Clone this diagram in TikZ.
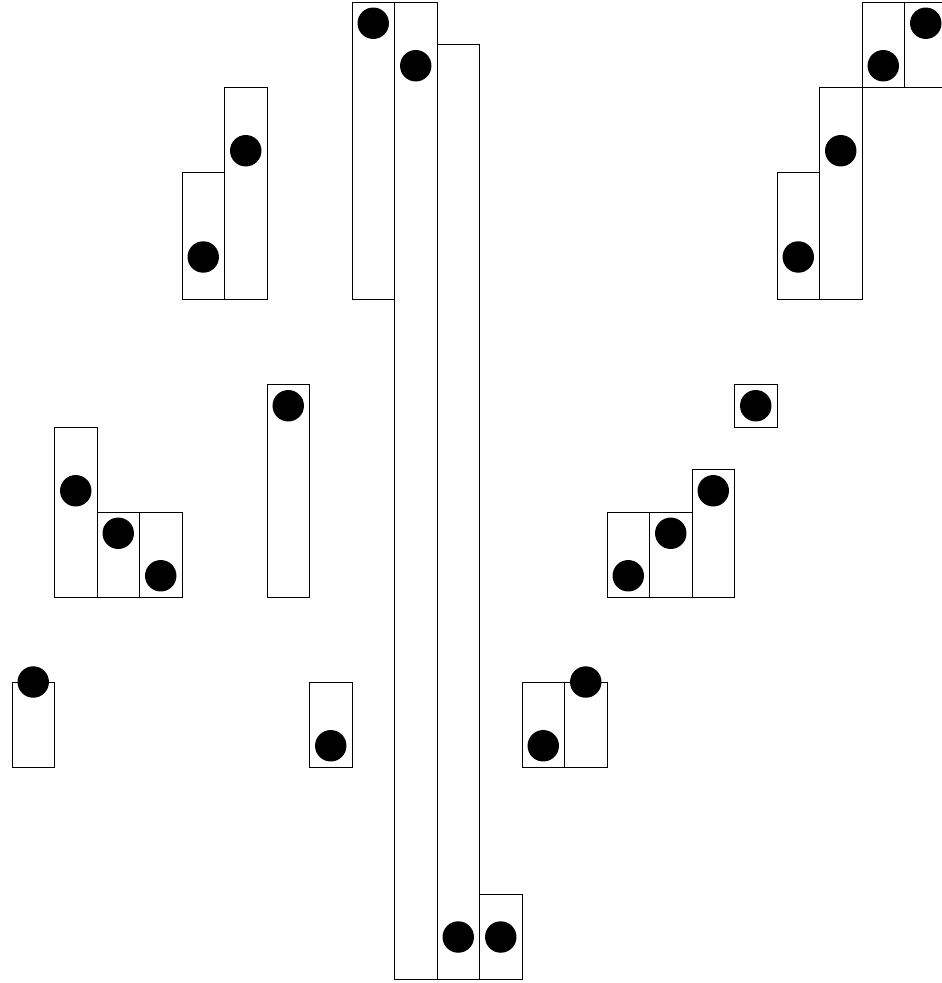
\documentclass[tikz,border=0pt]{standalone}
\usepackage{tikz}
\tikzset{
  colbox/.style={draw=black, line width=0.6pt},
  bead/.style={fill=black},
}
\begin{document}
\begin{tikzpicture}[x=1cm, y=-1cm]
  \useasboundingbox (-0.282,-0.047) rectangle (21.859,23.082);
  % column, top row, bottom row, bead row
  \foreach \c/\t/\b/\r in {0/16/18/16, 1/10/14/11.5, 2/12/14/12.5, 3/12/14/13.5,
      4/4/7/6, 5/2/7/3.5, 6/9/14/9.5, 7/16/18/17.5,
      8/0/7/0.5, 9/0/23/1.5, 10/1/23/22, 11/21/23/22,
      12/16/18/17.5, 13/16/18/16, 14/12/14/13.5, 15/12/14/12.5, 16/11/14/11.5,
      17/9/10/9.5, 18/4/7/6, 19/2/7/3.5, 20/0/2/1.5, 21/0/2/0.5} {
    \draw[colbox] (\c,\t) rectangle (\c+1,\b);
    \fill[bead] (\c+0.5,\r) circle (0.37);
  }
\end{tikzpicture}
\end{document}
